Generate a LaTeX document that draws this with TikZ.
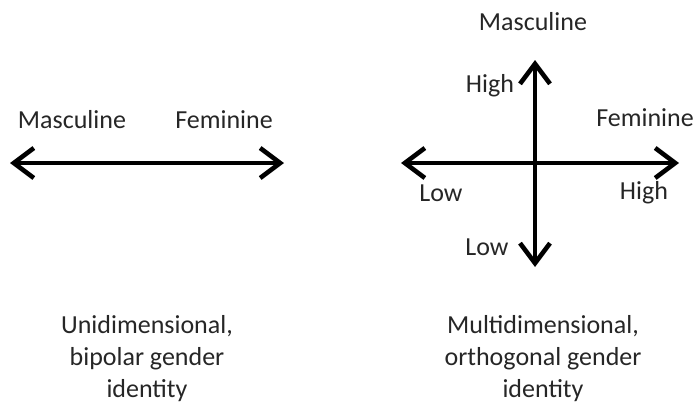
\documentclass[tikz,border=0pt]{standalone}
\usepackage{fontspec}
\setmainfont{Carlito}
\usepackage{tikz}
\usetikzlibrary{arrows.meta}

\begin{document}
\begin{tikzpicture}[x=0.5pt,y=-0.5pt,
  axis/.style={line width=2.3pt,{Straight Barb[length=10pt,width=15pt]}-{Straight Barb[length=10pt,width=15pt]}},
  lbl/.style={font=\fontsize{13}{16}\selectfont,text=black!85,inner sep=0pt},
  caption/.style={lbl,align=center}]
\useasboundingbox (0,0) rectangle (700,413);

% unidimensional
\coordinate (uniL) at (10,163);
\coordinate (uniR) at (284,163);
\draw[axis] (uniL) -- (uniR);
\node[lbl] (uniMasc) at (72,120) {Masculine};
\node[lbl] (uniFem) at (224,120) {Feminine};
\node[caption] (uniCap) at (147,359) {Unidimensional,\\bipolar gender\\identity};

% multidimensional
\coordinate (multiL) at (401,163);
\coordinate (multiR) at (679,163);
\coordinate (multiT) at (535,60);
\coordinate (multiB) at (535,267);
\draw[axis] (multiL) -- (multiR);
\draw[axis] (multiB) -- (multiT);
\node[lbl] (multiMasc) at (533,22) {Masculine};
\node[lbl] (mascHigh) at (490,86) {High};
\node[lbl] (mascLow) at (487,247) {Low};
\node[lbl] (multiFem) at (645,118) {Feminine};
\node[lbl] (femLow) at (441,193) {Low};
\node[lbl] (femHigh) at (644,193) {High};
\node[caption] (multiCap) at (543,359) {Multidimensional,\\orthogonal gender\\identity};
\end{tikzpicture}
\end{document}
